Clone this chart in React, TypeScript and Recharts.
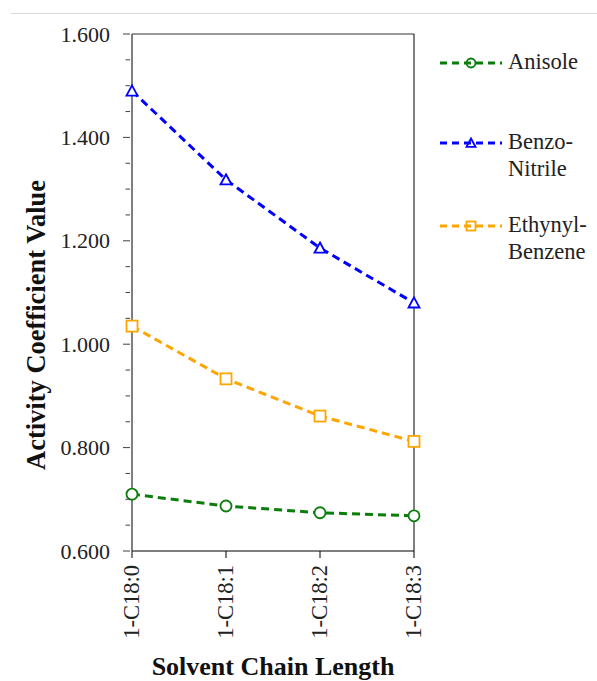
import React from "react";
import {
  Label,
  Line,
  LineChart,
  ReferenceLine,
  XAxis,
  YAxis,
} from "recharts";

const categories = ["1-C18:0", "1-C18:1", "1-C18:2", "1-C18:3"];
const anisole = [0.71, 0.687, 0.674, 0.668];
const benzoNitrile = [1.49, 1.318, 1.186, 1.08];
const ethynylBenzene = [1.035, 0.933, 0.861, 0.812];
const yTicks = [
  0.6, 0.65, 0.7, 0.75, 0.8, 0.85, 0.9, 0.95, 1.0, 1.05, 1.1, 1.15, 1.2, 1.25,
  1.3, 1.35, 1.4, 1.45, 1.5, 1.55, 1.6,
];

const data = categories.map((name, i) => ({
  name,
  anisole: anisole[i],
  benzo: benzoNitrile[i],
  ethynyl: ethynylBenzene[i],
}));

const FONT = "'Liberation Serif', 'Times New Roman', serif";

type Marker = "circle" | "triangle" | "square";

const series: { key: string; label: string[]; color: string; marker: Marker }[] = [
  { key: "anisole", label: ["Anisole"], color: "#0a7d0a", marker: "circle" },
  { key: "benzo", label: ["Benzo-", "Nitrile"], color: "#0000ff", marker: "triangle" },
  { key: "ethynyl", label: ["Ethynyl-", "Benzene"], color: "#ffa500", marker: "square" },
];

function MarkerShape({
  cx,
  cy,
  marker,
  color,
  size = 5.5,
  fill = "#fff",
}: {
  cx: number;
  cy: number;
  marker: Marker;
  color: string;
  size?: number;
  fill?: string;
}) {
  if (marker === "circle") {
    return <circle cx={cx} cy={cy} r={size} fill={fill} stroke={color} strokeWidth={1.8} />;
  }
  if (marker === "triangle") {
    return (
      <path
        d={`M${cx},${cy - size} L${cx + size},${cy + size * 0.85} L${cx - size},${cy + size * 0.85} Z`}
        fill={fill}
        stroke={color}
        strokeWidth={1.8}
      />
    );
  }
  return (
    <rect x={cx - size} y={cy - size} width={size * 2} height={size * 2} fill={fill} stroke={color} strokeWidth={1.8} />
  );
}

function YTick(props: any) {
  const { x, y, payload } = props;
  const v = payload.value as number;
  const major = Math.abs(Math.round(v * 5) - v * 5) < 1e-6;
  return (
    <g>
      <line x1={major ? x : x + 2.5} x2={x + 7} y1={y} y2={y} stroke="#404040" strokeWidth={1} />
      {major && (
        <text x={x - 13} y={y + 7.5} textAnchor="end" fontFamily={FONT} fontSize={22} fill="#222">
          {v.toFixed(3)}
        </text>
      )}
    </g>
  );
}

function XTick(props: any) {
  const { x, y, payload } = props;
  return (
    <text
      x={x + 7}
      y={y + 5}
      transform={`rotate(-90 ${x + 7} ${y + 5})`}
      textAnchor="end"
      fontFamily={FONT}
      fontSize={22.5}
      fill="#222"
    >
      {payload.value}
    </text>
  );
}

function ChartLegend() {
  const rows = [63, 143, 226];
  return (
    <svg width={160} height={280} style={{ position: "absolute", left: 440, top: 0, overflow: "visible" }}>
      {series.map((s, i) => (
        <g key={s.key}>
          <line x1={0} x2={62} y1={rows[i]} y2={rows[i]} stroke={s.color} strokeWidth={3} strokeDasharray="7 5" />
          <MarkerShape cx={31} cy={rows[i]} marker={s.marker} color={s.color} size={4.5} fill="none" />
          {s.label.map((t, j) => (
            <text key={t} x={68} y={rows[i] + 6 + j * 27} fontFamily={FONT} fontSize={22.5} fill="#222">
              {t}
            </text>
          ))}
        </g>
      ))}
    </svg>
  );
}

export default function App() {
  return (
    <div style={{ position: "absolute", left: 0, top: 0, width: 597, height: 681, background: "#fff" }}>
      <div style={{ position: "absolute", left: 11, top: 13, right: 0, height: 1, background: "#d9d9d9" }} />
      <LineChart
        width={597}
        height={681}
        data={data}
        margin={{ top: 34, right: 183, bottom: 0, left: 0 }}
      >
        <XAxis
          dataKey="name"
          axisLine={{ stroke: "#000", strokeWidth: 1 }}
          tickLine={{ stroke: "#000" }}
          tickSize={7}
          tick={<XTick />}
          interval={0}
          height={130}
        >
          <Label
            content={() => (
              <text x={273} y={675} textAnchor="middle" fontFamily={FONT} fontSize={26} fontWeight="bold" fill="#111">
                Solvent Chain Length
              </text>
            )}
          />
        </XAxis>
        <YAxis
          domain={[0.6, 1.6]}
          ticks={yTicks}
          interval={0}
          width={132}
          axisLine={{ stroke: "#555", strokeWidth: 1.5 }}
          tickLine={false}
          tickSize={7}
          tick={<YTick />}
        >
          <Label
            content={() => (
              <text
                x={45}
                y={325}
                transform="rotate(-90 45 325)"
                textAnchor="middle"
                fontFamily={FONT}
                fontSize={26.5}
                fontWeight="bold"
                fill="#111"
              >
                Activity Coefficient Value
              </text>
            )}
          />
        </YAxis>
        <ReferenceLine y={1.6} stroke="#333" strokeWidth={1} />
        <ReferenceLine x="1-C18:3" stroke="#000" strokeWidth={1} />
        {series.map((s) => (
          <Line
            key={s.key}
            dataKey={s.key}
            type="linear"
            stroke={s.color}
            strokeWidth={3}
            strokeDasharray="8 5"
            isAnimationActive={false}
            dot={(p: any) => (
              <MarkerShape key={`${s.key}-${p.index}`} cx={p.cx} cy={p.cy} marker={s.marker} color={s.color} />
            )}
            activeDot={false}
          />
        ))}
      </LineChart>
      <ChartLegend />
    </div>
  );
}
